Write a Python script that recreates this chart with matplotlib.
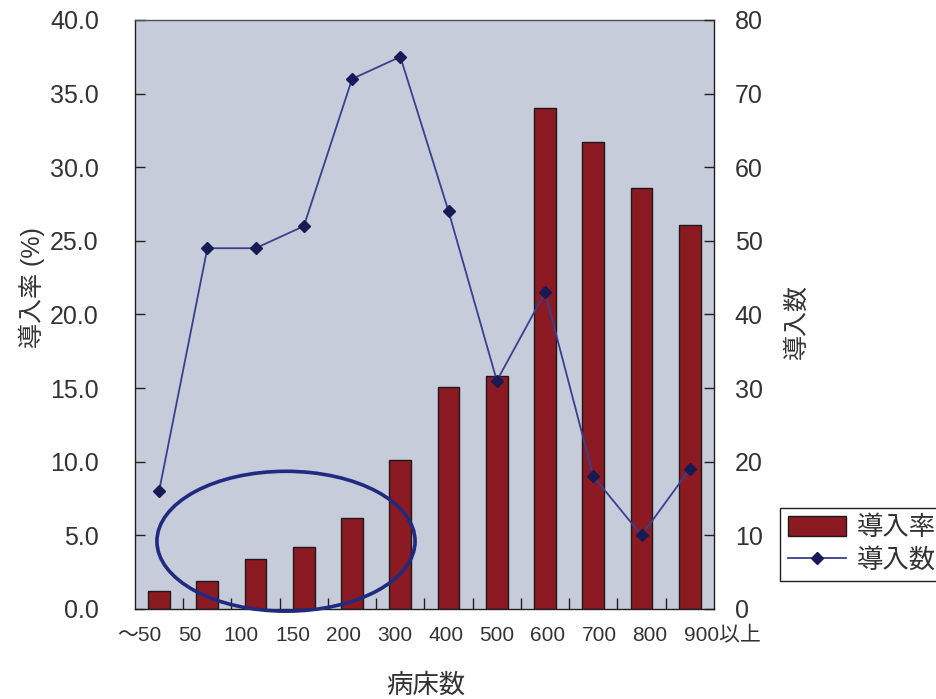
import matplotlib
matplotlib.use("Agg")
import matplotlib.pyplot as plt
import matplotlib.transforms as mtransforms
from matplotlib.patches import Ellipse, Patch
from matplotlib.lines import Line2D
import numpy as np

plt.rcParams['font.family'] = ['Liberation Sans', 'Noto Sans CJK JP', 'DejaVu Sans']

# Bed-count categories
categories = ['〜50', '50', '100', '150', '200', '300', '400', '500', '600', '700', '800', '900以上']
# Adoption rate (%) per category
rate = [1.2, 1.9, 3.4, 4.2, 6.2, 10.1, 15.1, 15.8, 34.0, 31.7, 28.6, 26.1]
# Number of adopting hospitals per category
count = [16, 49, 49, 52, 72, 75, 54, 31, 43, 18, 10, 19]

left_ticks = [0, 5, 10, 15, 20, 25, 30, 35, 40]
right_ticks = [0, 10, 20, 30, 40, 50, 60, 70, 80]

text_col = '#333333'
bar_col = '#8c1a22'
line_col = '#3a3f8f'
marker_col = '#161a55'
circle_col = '#1f2a80'

fig = plt.figure(figsize=(9.36, 6.99), dpi=100)
ax = fig.add_axes([0.1442, 0.1288, 0.6186, 0.8426])
ax.set_facecolor('#c6ccd9')

x = np.arange(len(categories))
ax.bar(x, rate, width=0.45, color=bar_col, edgecolor='#1a1a1a', linewidth=1.0, zorder=2)
ax.set_xlim(-0.5, len(categories) - 0.5)
ax.set_ylim(0, 40)
ax.set_yticks(left_ticks)
ax.set_yticklabels([f'{v:.1f}' for v in left_ticks])
ax.set_xticks(x)
ax.set_xticklabels([])
ax.set_xticks(np.arange(len(categories) - 1) + 0.5, minor=True)

ax.tick_params(axis='y', direction='in', length=7, width=1, colors='#202020',
               labelcolor=text_col, labelsize=18, pad=26)
ax.tick_params(axis='x', which='major', length=0)
ax.tick_params(axis='x', which='minor', direction='in', length=8, width=1, color='#202020')

# Category labels under the axis, spread slightly wider than the bar pitch
base = mtransforms.blended_transform_factory(ax.transData, ax.transAxes)
for i, cat in enumerate(categories):
    shift_px = -20 + 2.85 * i
    if cat.endswith('以上'):
        tr = base + mtransforms.ScaledTranslation((shift_px - 17) / 100.0, 0, fig.dpi_scale_trans)
        ax.text(i, -0.045, cat, transform=tr, ha='left', va='center',
                fontsize=15, color=text_col)
    else:
        tr = base + mtransforms.ScaledTranslation(shift_px / 100.0, 0, fig.dpi_scale_trans)
        ax.text(i, -0.045, cat, transform=tr, ha='center', va='center',
                fontsize=15, color=text_col)

for s in ax.spines.values():
    s.set_color('#202020')
    s.set_linewidth(1.0)
ax.spines['top'].set_color('#505050')

ax2 = ax.twinx()
ax2.patch.set_visible(False)
ax2.plot(x, count, color=line_col, linewidth=1.3, marker='D', markersize=6.5,
         markerfacecolor=marker_col, markeredgecolor=marker_col, zorder=3)
ax2.set_ylim(0, 80)
ax2.set_yticks(right_ticks)
ax2.tick_params(axis='y', direction='in', length=7, width=1, colors='#202020',
                labelcolor=text_col, labelsize=18, pad=15)
for s in ax2.spines.values():
    s.set_visible(False)

# Highlight of the small-hospital group
ax2.add_patch(Ellipse((2.63, 4.6), 5.35, 9.5, transform=ax.transData,
                      fill=False, edgecolor=circle_col, linewidth=2.6, clip_on=False, zorder=5))

fig.text(0.034, 0.589, '導入率 (%)', rotation=90, ha='center', va='center',
         fontsize=18, color=text_col)
fig.text(0.851, 0.54, '導入数', rotation=90, ha='center', va='center',
         fontsize=18, color=text_col)
fig.text(0.455, 0.02, '病床数', ha='center', va='center', fontsize=19, color=text_col)

handles = [Patch(facecolor=bar_col, edgecolor='#1a1a1a', linewidth=1.0),
           Line2D([0], [0], color=line_col, linewidth=1.3, marker='D', markersize=6.5,
                  markerfacecolor=marker_col, markeredgecolor=marker_col)]
leg = fig.legend(handles, ['導入率', '導入数'], loc='upper left',
                 bbox_to_anchor=(780 / 936, 1 - 508 / 699), fontsize=19,
                 frameon=True, fancybox=False, edgecolor='#202020', framealpha=1,
                 handlelength=2.2, handleheight=0.8, borderpad=0.3, labelspacing=0.3,
                 handletextpad=0.4, borderaxespad=0)
leg.get_frame().set_linewidth(1.0)
for t in leg.get_texts():
    t.set_color(text_col)

fig.savefig('out.png', dpi=100)
